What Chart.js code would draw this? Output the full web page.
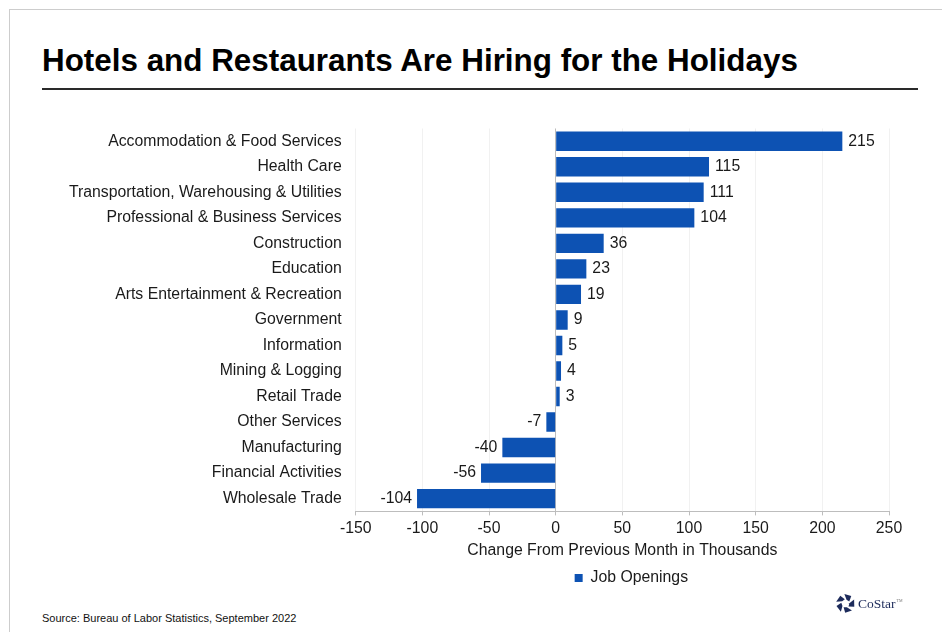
<!DOCTYPE html>
<html lang="en">
<head>
  <meta charset="UTF-8" />
  <title>Hotels and Restaurants Are Hiring for the Holidays</title>
  <script src="https://cdn.jsdelivr.net/npm/chart.js"></script>
  <style>
    body { margin: 0; width: 942px; height: 632px; overflow: hidden; background: #fff; position: relative;
           font-family: 'Liberation Sans', Arial, sans-serif; }
    .frame { position: absolute; left: 9px; top: 9px; right: 0; bottom: 0;
             border-top: 1px solid #cdcdcd; border-left: 1px solid #cdcdcd; }
    h1 { position: absolute; left: 42px; top: 45px; margin: 0; font-size: 31.4px; line-height: 1;
         font-weight: bold; color: #000; white-space: nowrap; }
    .rule { position: absolute; left: 42px; top: 88px; width: 876px; height: 2px; background: #2a2a2a; }
    #chartBox { position: absolute; left: 20px; top: 105px; width: 922px; height: 491px; }
    .source { position: absolute; left: 42px; top: 613px; font-size: 11px; line-height: 1; color: #111; white-space: nowrap; }
    .logo { position: absolute; left: 836px; top: 594px; height: 19px; display: flex; align-items: center; }
    .logo span { font-family: 'Liberation Serif', 'DejaVu Serif', serif; font-size: 13.5px; color: #1d2b5b; margin-left: 3px; }
    .logo sup { font-size: 4px; vertical-align: 6px; margin-left: 1px; color: #777; }
  </style>
</head>
<body>
  <div class="frame"></div>
  <h1>Hotels and Restaurants Are Hiring for the Holidays</h1>
  <div class="rule"></div>

  <div id="chartBox"><canvas id="jobsChart"></canvas></div>

  <div class="source">Source: Bureau of Labor Statistics, September 2022</div>
  <div class="logo">
    <svg width="19" height="19" viewBox="-9.5 -9.5 19 19">
      <g fill="#1d2b5b">
        <polygon points="8.6,-4.0 8.8,3.2 3.0,3.0 3.9,-0.2" transform="rotate(0)"/>
        <polygon points="8.6,-4.0 8.8,3.2 3.0,3.0 3.9,-0.2" transform="rotate(72)"/>
        <polygon points="8.6,-4.0 8.8,3.2 3.0,3.0 3.9,-0.2" transform="rotate(144)"/>
        <polygon points="8.6,-4.0 8.8,3.2 3.0,3.0 3.9,-0.2" transform="rotate(216)"/>
        <polygon points="8.6,-4.0 8.8,3.2 3.0,3.0 3.9,-0.2" transform="rotate(288)"/>
      </g>
    </svg>
    <span>CoStar<sup>TM</sup></span>
  </div>

  <script>
    const industries = [
      "Accommodation & Food Services",
      "Health Care",
      "Transportation, Warehousing & Utilities",
      "Professional & Business Services",
      "Construction",
      "Education",
      "Arts Entertainment & Recreation",
      "Government",
      "Information",
      "Mining & Logging",
      "Retail Trade",
      "Other Services",
      "Manufacturing",
      "Financial Activities",
      "Wholesale Trade"
    ];
    const openings = [215, 115, 111, 104, 36, 23, 19, 9, 5, 4, 3, -7, -40, -56, -104];
    const xTicks = { min: -150, max: 250, step: 50 };

    const FONT = "'Liberation Sans', Arial, sans-serif";
    const BLUE = "#0d52b3";
    Chart.defaults.font.family = FONT;
    Chart.defaults.font.size = 15.8;
    Chart.defaults.color = "#1a1a1a";

    // value printed at the end of each bar
    const valueLabels = {
      id: "valueLabels",
      afterDatasetsDraw(chart) {
        const ctx = chart.ctx;
        const bars = chart.getDatasetMeta(0).data;
        ctx.save();
        ctx.font = "15.8px " + FONT;
        ctx.fillStyle = "#1a1a1a";
        ctx.textBaseline = "middle";
        bars.forEach((bar, i) => {
          const v = openings[i];
          ctx.textAlign = v < 0 ? "right" : "left";
          ctx.fillText(String(v), v < 0 ? bar.x - 5 : bar.x + 6, bar.y);
        });
        ctx.restore();
      }
    };

    // legend sits a little right of the plot centre
    const nudgeLegend = {
      id: "nudgeLegend",
      afterLayout(chart) {
        chart.legend.left += 9;
        chart.legend.right += 9;
      }
    };

    new Chart(document.getElementById("jobsChart"), {
      type: "bar",
      data: {
        labels: industries,
        datasets: [{
          label: "Job Openings",
          data: openings,
          backgroundColor: BLUE,
          borderWidth: 0,
          barPercentage: 0.76,
          categoryPercentage: 1
        }]
      },
      options: {
        indexAxis: "y",
        responsive: true,
        maintainAspectRatio: false,
        animation: false,
        layout: { padding: { top: 0, right: 53, bottom: 0, left: 0 } },
        plugins: {
          tooltip: { enabled: false },
          legend: {
            position: "bottom",
            fullSize: false,
            labels: { boxWidth: 8, boxHeight: 8, padding: 6, color: "#1a1a1a" }
          }
        },
        scales: {
          x: {
            min: xTicks.min,
            max: xTicks.max,
            ticks: { stepSize: xTicks.step, padding: 7, color: "#1a1a1a", font: { lineHeight: 0.75 } },
            grid: {
              color: c => (c.tick && c.tick.value === 0 ? "#bdbdbd" : "#f1f1f1"),
              tickColor: "#bdbdbd",
              tickLength: 4
            },
            border: { color: "#bdbdbd" },
            title: {
              display: true,
              text: "Change From Previous Month in Thousands",
              color: "#1a1a1a",
              padding: { top: 0, bottom: 4 }
            }
          },
          y: {
            grid: { display: false, drawTicks: false },
            border: { display: false },
            ticks: { autoSkip: false, padding: 14, color: "#1a1a1a" },
            afterFit(scale) { scale.width = 335.7; }
          }
        }
      },
      plugins: [valueLabels, nudgeLegend]
    });
  </script>
</body>
</html>
